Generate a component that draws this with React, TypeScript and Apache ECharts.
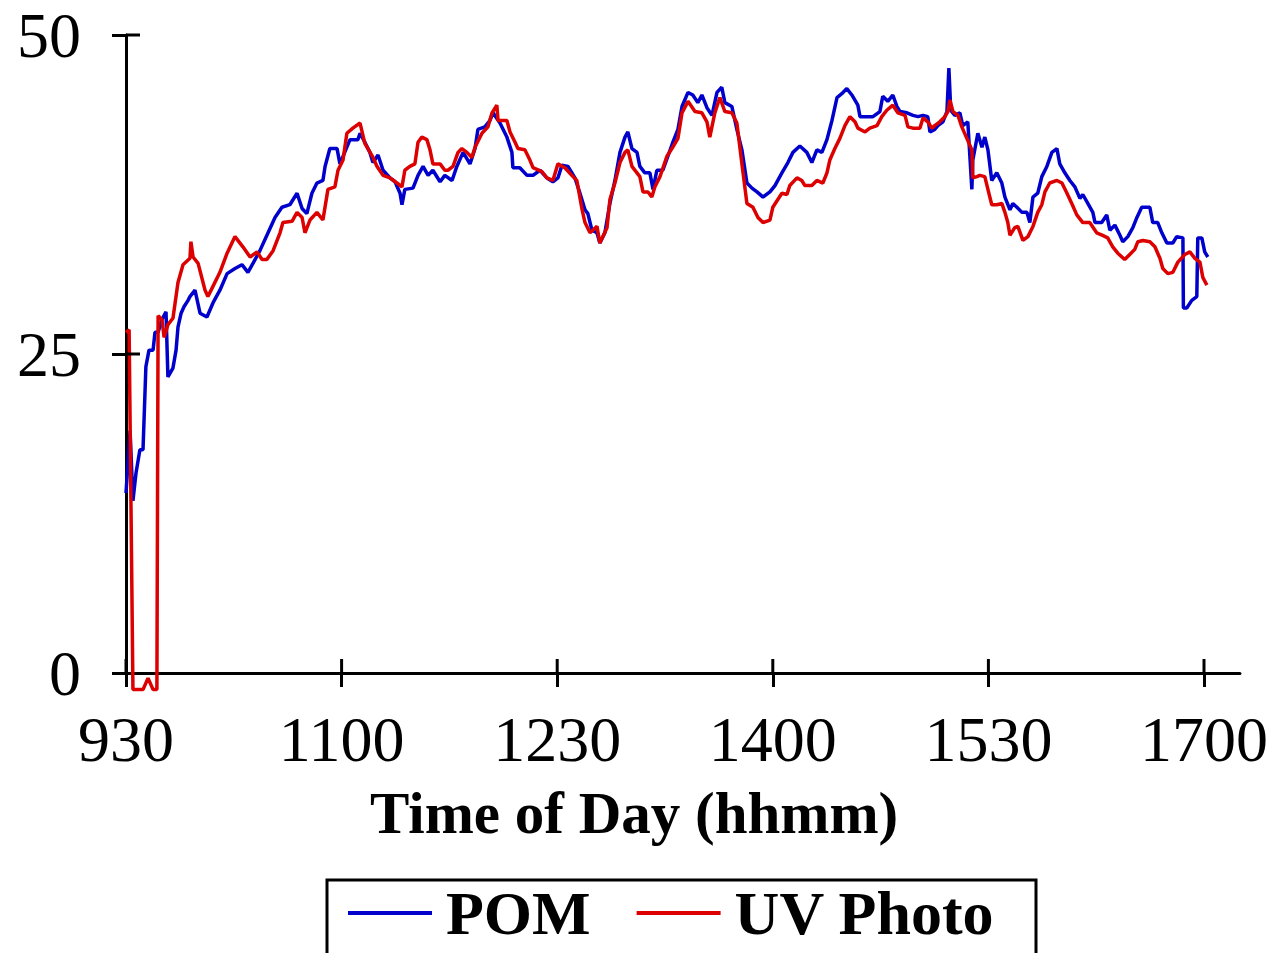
import React, { useEffect, useRef } from "react";
import * as echarts from "echarts";

// Time is in minutes after 09:30 (0 = 930, 450 = 1700)
const xTickLabels = ["930", "1100", "1230", "1400", "1530", "1700"];
const xTickValues = [0, 90, 180, 270, 360, 450];
const yTickValues = [0, 25, 50];

const pomTime = [
  0, 1.7, 2.9, 4.2, 5.8, 7.1, 8.3, 9.6, 11.3, 12.1, 13.4, 15.0, 16.7, 17.5, 19.6, 20.9, 21.7, 23.0, 24.2, 25.9,
  26.7, 28.8, 30.9, 33.8, 36.3, 39.2, 42.2, 45.5, 48.4, 50.9, 53.0, 55.9, 59.3, 62.2, 65.1, 68.4, 71.4, 73.5, 75.5, 77.6,
  79.7, 82.2, 83.1, 85.1, 88.1, 89.3, 93.5, 96.8, 97.7, 99.7, 101.8, 103.1, 105.2, 107.3, 110.2, 112.3, 114.4, 115.2, 116.4, 119.8,
  121.9, 124.0, 126.1, 128.1, 131.1, 133.1, 136.1, 138.1, 140.7, 143.6, 145.7, 146.9, 149.8, 151.9, 153.2, 156.1, 159.0, 161.1, 161.5, 164.4,
  167.4, 169.9, 172.8, 175.7, 178.2, 180.3, 182.0, 184.5, 187.4, 189.5, 191.6, 192.8, 194.5, 196.6, 197.8, 199.9, 202.0, 204.1, 206.2, 208.3,
  209.5, 211.2, 213.3, 214.5, 216.6, 218.7, 220.0, 221.6, 224.1, 226.2, 228.3, 230.4, 232.1, 234.6, 236.6, 238.7, 240.4, 242.5, 244.6, 246.7,
  248.7, 250.0, 252.9, 255.0, 257.1, 259.2, 261.3, 263.4, 265.9, 268.8, 270.9, 273.8, 276.3, 278.4, 281.3, 284.2, 286.3, 288.4, 290.5, 292.6,
  294.7, 296.8, 298.8, 300.9, 303.0, 305.5, 306.4, 309.3, 311.8, 314.7, 315.9, 318.0, 320.1, 321.8, 323.1, 326.0, 328.5, 330.6, 332.7, 334.7,
  335.6, 337.6, 338.9, 341.0, 342.7, 343.5, 344.3, 346.0, 348.1, 349.3, 351.4, 353.1, 353.5, 355.6, 357.3, 358.5, 359.8, 361.4, 363.5, 365.6,
  366.9, 369.0, 370.2, 371.9, 374.0, 376.1, 377.3, 378.6, 380.6, 382.3, 384.4, 386.5, 388.6, 389.8, 391.9, 394.0, 396.1, 398.2, 399.4, 401.5,
  403.6, 404.5, 407.3, 409.4, 410.7, 412.8, 414.9, 416.1, 418.2, 420.3, 422.0, 424.0, 427.4, 428.6, 430.7, 432.4, 434.5, 437.0, 438.6, 441.2,
  441.4, 442.8, 444.9, 447.0, 447.4, 449.1, 450.3, 451.6,
];
const pomValue = [
  14.1, 19.0, 13.5, 15.7, 17.5, 17.5, 24.0, 25.3, 25.3, 26.7, 26.7, 27.7, 28.3, 23.2, 23.9, 25.3, 27.1, 28.2, 28.7, 29.2,
  29.5, 30.0, 28.2, 27.9, 29.0, 30.0, 31.3, 31.7, 32.0, 31.4, 32.1, 33.1, 34.5, 35.7, 36.5, 36.7, 37.6, 36.4, 36.0, 37.6,
  38.4, 38.6, 39.7, 41.1, 41.1, 39.9, 41.8, 41.8, 42.3, 41.6, 40.8, 40.0, 40.6, 39.4, 38.8, 38.5, 37.6, 36.7, 37.9, 38.0,
  39.0, 39.7, 39.0, 39.4, 38.5, 39.0, 38.6, 39.7, 40.8, 39.9, 41.1, 42.6, 42.8, 43.3, 43.9, 43.1, 42.0, 40.8, 39.6, 39.6,
  39.0, 39.0, 39.4, 38.8, 38.5, 38.8, 39.8, 39.7, 38.8, 37.6, 36.3, 36.0, 34.7, 34.5, 33.7, 34.5, 36.8, 38.6, 40.8, 42.0,
  42.4, 41.1, 40.8, 39.7, 39.2, 39.2, 37.9, 39.4, 39.4, 40.5, 41.6, 42.6, 44.4, 45.5, 45.3, 44.7, 45.3, 44.3, 43.7, 45.5,
  45.9, 44.7, 44.4, 42.6, 41.0, 38.4, 38.0, 37.7, 37.3, 37.7, 38.2, 39.2, 40.0, 40.8, 41.3, 40.8, 40.0, 41.0, 40.8, 41.8,
  43.3, 45.1, 45.4, 45.8, 45.3, 44.5, 43.6, 43.6, 43.6, 44.0, 45.2, 44.8, 45.3, 44.4, 44.0, 43.9, 43.7, 43.6, 43.7, 43.6,
  42.4, 42.6, 42.9, 43.2, 44.0, 47.4, 44.1, 43.7, 43.9, 42.9, 43.2, 37.9, 40.2, 42.3, 41.2, 42.0, 41.0, 38.6, 39.2, 38.4,
  37.3, 36.3, 36.8, 36.5, 36.1, 36.1, 35.3, 37.3, 37.6, 38.9, 39.7, 40.8, 41.1, 39.9, 39.2, 38.6, 38.1, 37.2, 37.5, 36.8,
  36.1, 35.3, 35.3, 35.9, 34.7, 35.1, 34.3, 33.8, 34.2, 34.9, 35.7, 36.5, 36.5, 35.3, 35.3, 34.5, 33.7, 33.7, 34.2, 34.1,
  28.6, 28.6, 29.2, 29.5, 34.1, 34.1, 33.0, 32.6,
];

const uvTime = [
  0, 1.3, 2.9, 7.1, 9.2, 11.3, 12.9, 13.4, 15.0, 15.9, 17.5, 19.6, 21.7, 23.8, 26.7, 27.1, 28.0, 30.1, 33.0, 34.2,
  36.3, 39.2, 42.2, 45.5, 48.8, 51.8, 54.7, 56.8, 58.8, 61.4, 64.3, 65.5, 69.3, 71.4, 73.5, 74.7, 76.8, 79.7, 82.2, 84.3,
  87.2, 88.5, 90.6, 92.2, 94.7, 97.7, 99.7, 103.1, 104.8, 107.3, 110.2, 113.1, 115.2, 116.4, 118.5, 120.6, 121.9, 123.5, 125.6, 126.9,
  128.1, 131.1, 133.1, 134.4, 136.5, 138.6, 140.2, 142.3, 144.4, 145.7, 148.6, 151.1, 152.8, 154.8, 155.3, 159.0, 160.3, 162.4, 163.6, 166.5,
  168.6, 169.9, 173.6, 175.7, 178.2, 180.3, 183.2, 186.1, 188.2, 190.3, 191.6, 193.7, 196.6, 197.8, 200.8, 202.0, 204.1, 206.2, 208.3, 209.5,
  211.2, 214.5, 215.8, 217.9, 219.5, 220.8, 222.9, 225.8, 227.9, 230.4, 232.1, 234.6, 237.5, 240.4, 242.5, 243.7, 245.8, 247.9, 250.0, 252.9,
  255.0, 257.1, 259.2, 261.7, 263.8, 265.9, 268.8, 270.0, 273.8, 275.9, 277.1, 280.1, 282.1, 283.4, 286.3, 288.4, 290.9, 292.6, 293.8, 295.9,
  298.0, 300.1, 302.2, 304.3, 305.5, 308.5, 310.5, 313.5, 315.5, 317.6, 320.1, 322.2, 325.2, 326.4, 328.5, 331.4, 332.7, 334.7, 336.4, 337.6,
  339.7, 341.8, 343.1, 343.9, 345.2, 347.3, 348.9, 351.0, 353.1, 353.5, 355.2, 356.4, 358.5, 359.8, 361.4, 363.5, 365.6, 366.9, 368.1, 369.0,
  371.0, 372.3, 374.4, 376.5, 378.6, 380.6, 382.3, 383.6, 385.6, 388.6, 390.7, 392.8, 394.8, 396.9, 399.4, 402.3, 405.2, 407.7, 409.8, 411.9,
  414.0, 416.9, 419.0, 421.1, 422.4, 424.5, 427.4, 429.5, 431.6, 432.8, 434.9, 437.0, 439.1, 442.0, 444.1, 446.2, 448.3, 449.5, 451.2,
];
const uvValue = [
  26.7, 26.9, -1.3, -1.3, -0.4, -1.3, -1.3, 28.0, 27.7, 26.3, 27.3, 27.8, 30.6, 32.0, 32.5, 33.8, 32.6, 32.1, 30.0, 29.5,
  30.3, 31.4, 32.9, 34.2, 33.4, 32.6, 33.0, 32.4, 32.4, 33.1, 34.5, 35.3, 35.4, 36.1, 35.7, 34.5, 35.5, 36.1, 35.5, 37.9,
  38.1, 39.4, 40.2, 42.3, 42.7, 43.1, 41.5, 40.4, 39.7, 39.0, 38.8, 38.4, 38.1, 39.4, 39.7, 39.9, 41.6, 42.0, 41.8, 41.0,
  39.9, 39.9, 39.4, 39.4, 39.7, 40.8, 41.1, 40.8, 40.4, 41.2, 42.3, 42.8, 43.9, 44.5, 43.3, 43.3, 42.4, 41.6, 41.1, 41.0,
  40.2, 39.6, 39.3, 38.8, 38.6, 39.9, 39.6, 39.0, 38.6, 36.4, 35.3, 34.5, 35.0, 33.7, 34.9, 37.1, 38.4, 40.0, 40.8, 41.0,
  39.7, 38.9, 37.7, 37.7, 37.3, 38.1, 38.9, 40.5, 41.1, 41.9, 43.9, 44.8, 44.0, 43.9, 43.2, 42.0, 43.9, 45.1, 44.0, 43.9,
  43.1, 39.9, 36.8, 36.5, 35.7, 35.3, 35.5, 36.5, 37.6, 37.5, 38.2, 38.8, 38.6, 38.2, 38.2, 38.6, 38.4, 39.2, 40.2, 41.1,
  41.9, 42.9, 43.6, 43.2, 42.7, 42.4, 42.7, 42.9, 43.6, 44.1, 44.5, 43.9, 43.7, 42.8, 42.7, 42.7, 43.5, 43.2, 42.7, 42.9,
  43.2, 43.6, 44.0, 44.9, 44.0, 43.7, 42.8, 41.9, 41.0, 38.8, 38.9, 39.0, 38.9, 37.9, 36.7, 36.7, 36.8, 36.1, 35.3, 34.3,
  34.9, 35.0, 33.9, 34.2, 35.0, 36.1, 36.7, 37.7, 38.4, 38.6, 38.4, 37.6, 36.8, 35.9, 35.3, 35.3, 34.5, 34.3, 34.1, 33.4,
  32.9, 32.4, 32.8, 33.2, 33.8, 33.9, 33.8, 33.4, 32.5, 31.7, 31.3, 31.4, 32.2, 32.8, 33.0, 32.5, 32.2, 31.0, 30.4,
];

const FONT = "'Liberation Serif', 'Times New Roman', serif";

export default function App() {
  const ref = useRef<HTMLDivElement>(null);
  useEffect(() => {
    if (!ref.current) return;
    const chart = echarts.init(ref.current, null, { renderer: "svg" });
    const pom = pomTime.map((t, i) => [t, pomValue[i]]);
    const uv = uvTime.map((t, i) => [t, uvValue[i]]);
    const xLabel = (v: number) => {
      const idx = xTickValues.findIndex((t) => Math.abs(t - v) < 0.01);
      return idx >= 0 ? xTickLabels[idx] : "";
    };
    const yLabel = (v: number) => (yTickValues.includes(v) ? String(v) : "");
    const axisLineStyle = { color: "#000", width: 3 };
    const tickStyle = { color: "#000", width: 3 };
    chart.setOption({
      animation: false,
      backgroundColor: "#ffffff",
      grid: { left: 126, right: 31, top: 35, bottom: 280, containLabel: false },
      legend: {
        left: 343,
        top: 877,
        icon: "rect",
        itemWidth: 84,
        itemHeight: 4,
        itemGap: 46,
        data: ["POM", "UV Photo"],
        textStyle: {
          fontFamily: FONT,
          fontWeight: "bold",
          fontSize: 62,
          color: "#000",
          padding: [0, 0, 0, 9],
        },
      },
      xAxis: {
        type: "value",
        min: 0,
        max: 465,
        interval: 90,
        splitLine: { show: false },
        axisLine: { onZero: false, lineStyle: axisLineStyle },
        axisTick: { inside: false, length: 14, customValues: xTickValues, lineStyle: tickStyle },
        axisLabel: {
          formatter: xLabel,
          customValues: xTickValues,
          margin: 34,
          fontFamily: FONT,
          fontSize: 64,
          color: "#000",
        },
      },
      yAxis: {
        type: "value",
        min: 0,
        max: 50,
        interval: 25,
        splitLine: { show: false },
        axisLine: { onZero: false, lineStyle: axisLineStyle },
        axisTick: { inside: false, length: 14, lineStyle: tickStyle },
        axisLabel: {
          formatter: yLabel,
          margin: 45,
          fontFamily: FONT,
          fontSize: 64,
          color: "#000",
        },
      },
      graphic: {
        elements: [
          {
            id: "xtitle",
            type: "text",
            left: 370,
            top: 783,
            style: {
              text: "Time of Day (hhmm)",
              font: `bold 59px ${FONT}`,
              fill: "#000",
            },
          },
          {
            id: "legendbox",
            type: "rect",
            shape: { x: 327, y: 880, width: 709, height: 120 },
            style: { fill: "none", stroke: "#000", lineWidth: 3 },
            z: 0,
          },
        ],
      },
      series: [
        {
          name: "POM",
          type: "line",
          data: pom,
          showSymbol: false,
          clip: false,
          lineStyle: { color: "#0000CC", width: 3.5 },
          itemStyle: { color: "#0000CC" },
          z: 2,
        },
        {
          name: "UV Photo",
          type: "line",
          data: uv,
          showSymbol: false,
          clip: false,
          lineStyle: { color: "#DD0000", width: 3.5 },
          itemStyle: { color: "#DD0000" },
          z: 3,
        },
      ],
    });

    // inner halves of the crossing tick marks, placed through the axes' own scales
    const y0 = Number(chart.convertToPixel({ yAxisIndex: 0 }, 0));
    const x0 = Number(chart.convertToPixel({ xAxisIndex: 0 }, 0));
    const innerTicks: any[] = [];
    xTickValues.forEach((v, i) => {
      const px = Number(chart.convertToPixel({ xAxisIndex: 0 }, v));
      innerTicks.push({
        id: "xtick" + i,
        type: "line",
        shape: { x1: px, y1: y0, x2: px, y2: y0 - 14 },
        style: { stroke: "#000", lineWidth: 3 },
        z: 50,
      });
    });
    yTickValues.forEach((v, i) => {
      if (v === 0) return;
      const py = Number(chart.convertToPixel({ yAxisIndex: 0 }, v));
      innerTicks.push({
        id: "ytick" + i,
        type: "line",
        shape: { x1: x0, y1: py, x2: x0 + 14, y2: py },
        style: { stroke: "#000", lineWidth: 3 },
        z: 50,
      });
    });
    chart.setOption({ graphic: { elements: innerTicks } });

    return () => chart.dispose();
  }, []);
  return (
    <div
      ref={ref}
      style={{ position: "fixed", left: 0, top: 0, width: 1271, height: 953, background: "#fff" }}
    />
  );
}
